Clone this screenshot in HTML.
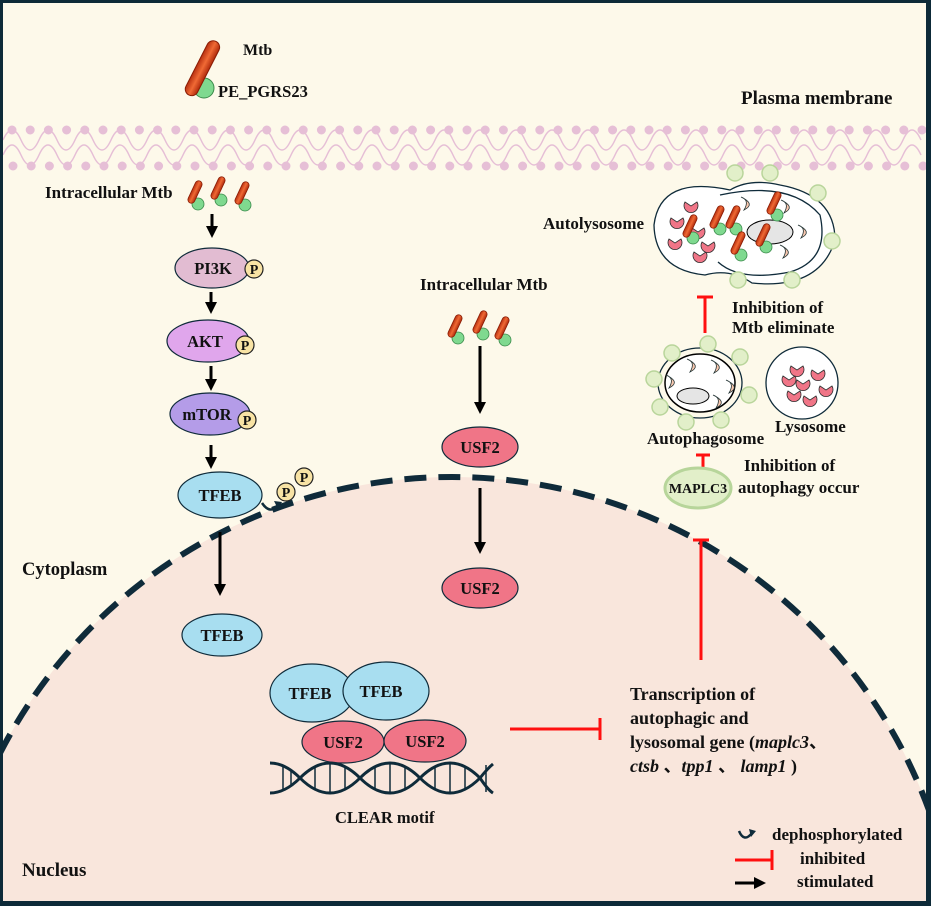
<!DOCTYPE html>
<html><head><meta charset="utf-8"><style>
html,body{margin:0;padding:0;background:#0d2a38;overflow:hidden;width:931px;height:906px}
svg{display:block;position:absolute;left:0;top:0}
text{font-family:"Liberation Serif",serif;font-weight:bold;fill:#111}
</style></head><body>
<svg width="931" height="906" viewBox="0 0 931 906" xmlns="http://www.w3.org/2000/svg">
<defs>
<linearGradient id="rod" x1="0" y1="0" x2="1" y2="0">
<stop offset="0" stop-color="#b83010"/><stop offset="0.5" stop-color="#f06a35"/><stop offset="1" stop-color="#b02a0c"/></linearGradient>
<marker id="ah" viewBox="0 0 10 10" refX="5" refY="5" markerWidth="4" markerHeight="4" orient="auto"><path d="M0,0 L10,5 L0,10z" fill="#000"/></marker>
<g id="bac"><circle cx="3" cy="12" r="6" fill="#7fd98f" stroke="#3a8a4a" stroke-width="0.8"/><rect x="-3.5" y="-12" width="7" height="24" rx="3.5" fill="url(#rod)" stroke="#8a1d05" stroke-width="0.8" transform="rotate(25)"/></g>
<g id="cres"><path d="M-6,-4 A7,7 0 1 0 6,-4 L0,0 Z" fill="#f07587" stroke="#333" stroke-width="0.8"/></g>
<g id="crs2"><path d="M-7,-5 Q2,-2 -4,8 Q8,2 -7,-5Z" fill="#f7c6ae" stroke="#233" stroke-width="0.8"/></g>
<g id="vg"><circle r="8" fill="#e2efc9" stroke="#b9d59b" stroke-width="1.5"/></g>
<clipPath id="cp"><rect x="3" y="3" width="923" height="898"/></clipPath>
</defs>
<rect x="3" y="3" width="923" height="898" fill="#fdf9ea"/>
<g clip-path="url(#cp)">
<circle cx="452" cy="985" r="508" fill="#f9e6dc" stroke="#0f2b3a" stroke-width="6" stroke-dasharray="22 12"/>
</g>
<!-- membrane -->
<g fill="none" stroke="#e6bfd6" stroke-width="1.5" clip-path="url(#cp)">
<path d="M3,140 Q12,120 21,140 Q30,160 39,140 Q48,120 57,140 Q66,160 75,140 Q84,120 93,140 Q102,160 111,140 Q120,120 129,140 Q138,160 147,140 Q156,120 165,140 Q174,160 183,140 Q192,120 201,140 Q210,160 219,140 Q228,120 237,140 Q246,160 255,140 Q264,120 273,140 Q282,160 291,140 Q300,120 309,140 Q318,160 327,140 Q336,120 345,140 Q354,160 363,140 Q372,120 381,140 Q390,160 399,140 Q408,120 417,140 Q426,160 435,140 Q444,120 453,140 Q462,160 471,140 Q480,120 489,140 Q498,160 507,140 Q516,120 525,140 Q534,160 543,140 Q552,120 561,140 Q570,160 579,140 Q588,120 597,140 Q606,160 615,140 Q624,120 633,140 Q642,160 651,140 Q660,120 669,140 Q678,160 687,140 Q696,120 705,140 Q714,160 723,140 Q732,120 741,140 Q750,160 759,140 Q768,120 777,140 Q786,160 795,140 Q804,120 813,140 Q822,160 831,140 Q840,120 849,140 Q858,160 867,140 Q876,120 885,140 Q894,160 903,140 Q912,120 921,140"/>
<path d="M3,155 Q12,135 21,155 Q30,175 39,155 Q48,135 57,155 Q66,175 75,155 Q84,135 93,155 Q102,175 111,155 Q120,135 129,155 Q138,175 147,155 Q156,135 165,155 Q174,175 183,155 Q192,135 201,155 Q210,175 219,155 Q228,135 237,155 Q246,175 255,155 Q264,135 273,155 Q282,175 291,155 Q300,135 309,155 Q318,175 327,155 Q336,135 345,155 Q354,175 363,155 Q372,135 381,155 Q390,175 399,155 Q408,135 417,155 Q426,175 435,155 Q444,135 453,155 Q462,175 471,155 Q480,135 489,155 Q498,175 507,155 Q516,135 525,155 Q534,175 543,155 Q552,135 561,155 Q570,175 579,155 Q588,135 597,155 Q606,175 615,155 Q624,135 633,155 Q642,175 651,155 Q660,135 669,155 Q678,175 687,155 Q696,135 705,155 Q714,175 723,155 Q732,135 741,155 Q750,175 759,155 Q768,135 777,155 Q786,175 795,155 Q804,135 813,155 Q822,175 831,155 Q840,135 849,155 Q858,175 867,155 Q876,135 885,155 Q894,175 903,155 Q912,135 921,155"/>
<line x1="12" y1="130" x2="926" y2="130" stroke-width="9" stroke-linecap="round" stroke-dasharray="0 18.2"/>
<line x1="13" y1="166" x2="926" y2="166" stroke-width="9" stroke-linecap="round" stroke-dasharray="0 18.2"/>
</g>
<!-- top Mtb -->
<circle cx="204" cy="88" r="10" fill="#7fd98f" stroke="#3a8a4a"/>
<rect x="196" y="38" width="13" height="60" rx="6.5" fill="url(#rod)" stroke="#8a1d05" transform="rotate(27 202 68)"/>
<text x="243" y="55" font-size="16">Mtb</text>
<text x="218" y="97" font-size="16.5">PE_PGRS23</text>
<text x="741" y="104" font-size="19">Plasma membrane</text>
<!-- left pathway -->
<text x="45" y="198" font-size="17">Intracellular Mtb</text>
<use href="#bac" x="195" y="192"/><use href="#bac" x="218" y="188"/><use href="#bac" x="242" y="193"/>
<g stroke="#000" stroke-width="3" marker-end="url(#ah)">
<line x1="212" y1="214" x2="212" y2="232"/><line x1="211" y1="292" x2="211" y2="308"/><line x1="211" y1="366" x2="211" y2="385"/><line x1="211" y1="445" x2="211" y2="463"/>
<line x1="220" y1="532" x2="220" y2="590"/>
<line x1="480" y1="346" x2="480" y2="408"/><line x1="480" y1="488" x2="480" y2="548"/>
<line x1="735" y1="883" x2="760" y2="883"/>
</g>
<g stroke="#0f2b3a" stroke-width="1.2">
<ellipse cx="212" cy="268" rx="37" ry="20" fill="#e2bcd2"/>
<ellipse cx="208" cy="341" rx="41" ry="21" fill="#e0a6ec"/>
<ellipse cx="210" cy="414" rx="40" ry="21" fill="#b49ce8"/>
<ellipse cx="220" cy="495" rx="42" ry="23" fill="#a8def0"/>
<ellipse cx="222" cy="635" rx="40" ry="21" fill="#a8def0"/>
<ellipse cx="480" cy="447" rx="38" ry="20" fill="#f07587"/>
<ellipse cx="480" cy="588" rx="38" ry="20" fill="#f07587"/>
<ellipse cx="312" cy="693" rx="42" ry="29" fill="#a8def0"/>
<ellipse cx="386" cy="691" rx="43" ry="29" fill="#a8def0"/>
<ellipse cx="343" cy="742" rx="41" ry="21" fill="#f07587"/>
<ellipse cx="425" cy="741" rx="41" ry="21" fill="#f07587"/>
</g>
<g fill="#f8e3a4" stroke="#222" stroke-width="1.2">
<circle cx="254" cy="269" r="9"/><circle cx="245" cy="345" r="9"/><circle cx="247" cy="420" r="9"/>
<circle cx="286" cy="492" r="9"/><circle cx="304" cy="477" r="9"/>
</g>
<g font-size="14" text-anchor="middle">
<text x="254" y="274">P</text><text x="245" y="350">P</text><text x="247" y="425">P</text><text x="286" y="497">P</text><text x="304" y="482">P</text>
</g>
<path d="M262,503 Q270,515 278,505" fill="none" stroke="#0f2b3a" stroke-width="2.5"/><path d="M274,501 L282,502 L278,509z" fill="#0f2b3a"/>
<g font-size="16.5" text-anchor="middle">
<text x="213" y="274">PI3K</text><text x="205" y="347">AKT</text><text x="207" y="420">mTOR</text><text x="220" y="501">TFEB</text><text x="222" y="641">TFEB</text>
<text x="480" y="453">USF2</text><text x="480" y="594">USF2</text>
<text x="310" y="699">TFEB</text><text x="381" y="697">TFEB</text><text x="343" y="748">USF2</text><text x="425" y="747">USF2</text>
</g>
<text x="22" y="575" font-size="18.5">Cytoplasm</text>
<text x="22" y="876" font-size="19">Nucleus</text>
<!-- middle -->
<text x="420" y="290" font-size="17">Intracellular Mtb</text>
<use href="#bac" x="455" y="326"/><use href="#bac" x="480" y="322"/><use href="#bac" x="502" y="328"/>
<!-- DNA -->
<g fill="none" stroke="#0f2b3a" stroke-width="3">
<path d="M270,763 Q285,763 300,778 Q315,793 330,793 Q345,793 360,778 Q375,763 390,763 Q405,763 420,778 Q435,793 450,793 Q465,793 480,778 Q488,768 493,764"/>
<path d="M270,793 Q285,793 300,778 Q315,763 330,763 Q345,763 360,778 Q375,793 390,793 Q405,793 420,778 Q435,763 450,763 Q465,763 480,778 Q488,790 493,793"/>
</g>
<g stroke="#0f2b3a" stroke-width="1.5">
<line x1="283" y1="766" x2="283" y2="790"/><line x1="291" y1="770" x2="291" y2="786"/><line x1="315" y1="767" x2="315" y2="790"/><line x1="330" y1="763" x2="330" y2="793"/><line x1="345" y1="767" x2="345" y2="790"/>
<line x1="375" y1="767" x2="375" y2="790"/><line x1="390" y1="763" x2="390" y2="793"/><line x1="405" y1="767" x2="405" y2="790"/><line x1="435" y1="767" x2="435" y2="790"/><line x1="450" y1="763" x2="450" y2="793"/><line x1="465" y1="767" x2="465" y2="790"/><line x1="486" y1="765" x2="486" y2="792"/>
</g>
<text x="335" y="823" font-size="16.5">CLEAR motif</text>
<!-- red inhibit -->
<g stroke="#ff1010" stroke-width="3">
<line x1="510" y1="729" x2="600" y2="729"/><line x1="600" y1="718" x2="600" y2="740"/>
<line x1="701" y1="660" x2="701" y2="540"/><line x1="693" y1="540" x2="709" y2="540"/>
<line x1="703" y1="472" x2="703" y2="455"/><line x1="696" y1="455" x2="710" y2="455"/>
<line x1="705" y1="333" x2="705" y2="297"/><line x1="697" y1="297" x2="713" y2="297"/>
<line x1="735" y1="860" x2="772" y2="860"/><line x1="772" y1="850" x2="772" y2="870"/>
</g>
<g font-size="18">
<text x="630" y="700">Transcription of</text>
<text x="630" y="724">autophagic and</text>
<text x="630" y="748">lysosomal gene (<tspan font-style="italic">maplc3</tspan><tspan font-family="Noto Sans CJK SC">、</tspan></text>
<text x="630" y="772"><tspan font-style="italic">ctsb</tspan> <tspan font-family="Noto Sans CJK SC">、</tspan><tspan font-style="italic">tpp1</tspan> <tspan font-family="Noto Sans CJK SC">、</tspan> <tspan font-style="italic">lamp1</tspan> )</text>
</g>
<!-- MAPLC3 -->
<ellipse cx="698" cy="488" rx="33" ry="20" fill="#e2efc9" stroke="#b7d59a" stroke-width="3"/>
<text x="698" y="493" font-size="14" text-anchor="middle">MAPLC3</text>
<g font-size="17">
<text x="744" y="471">Inhibition of</text><text x="738" y="493">autophagy occur</text>
<text x="732" y="313">Inhibition of</text><text x="732" y="333">Mtb eliminate</text>
<text x="647" y="444">Autophagosome</text><text x="775" y="432">Lysosome</text>
<text x="543" y="229">Autolysosome</text>
</g>
<!-- autophagosome -->
<ellipse cx="700" cy="383" rx="42" ry="35" fill="none" stroke="#0f2b3a" stroke-width="1.3"/>
<ellipse cx="700" cy="383" rx="35" ry="29" fill="#fff" stroke="#000" stroke-width="1.5"/>
<ellipse cx="693" cy="396" rx="16" ry="8" fill="#e5e5e5" stroke="#000"/>
<use href="#crs2" x="673" y="380"/><use href="#crs2" x="694" y="364"/><use href="#crs2" x="718" y="365"/><use href="#crs2" x="733" y="385"/><use href="#crs2" x="720" y="400"/>
<use href="#vg" x="708" y="344"/><use href="#vg" x="672" y="353"/><use href="#vg" x="740" y="357"/><use href="#vg" x="654" y="379"/><use href="#vg" x="749" y="395"/><use href="#vg" x="660" y="407"/><use href="#vg" x="686" y="422"/><use href="#vg" x="721" y="420"/>
<!-- lysosome -->
<circle cx="802" cy="383" r="36" fill="#fff" stroke="#0f2b3a" stroke-width="1.3"/>
<use href="#cres" x="797" y="370"/><use href="#cres" x="818" y="374"/><use href="#cres" x="789" y="380"/><use href="#cres" x="803" y="384"/><use href="#cres" x="826" y="390"/><use href="#cres" x="794" y="395"/><use href="#cres" x="810" y="400"/>
<!-- autolysosome -->
<path d="M730,190 Q660,175 654,225 Q655,270 705,275 Q730,268 752,283 Q820,290 835,240 Q835,195 780,185 Q750,178 730,190Z" fill="#fff" stroke="#0f2b3a" stroke-width="1.3"/>
<path d="M720,195 Q790,180 820,215 Q830,260 790,272 Q740,282 718,262" fill="none" stroke="#0f2b3a" stroke-width="1.3"/>
<ellipse cx="770" cy="232" rx="23" ry="12" fill="#e5e5e5" stroke="#000"/>
<use href="#cres" x="691" y="206"/><use href="#cres" x="677" y="222"/><use href="#cres" x="698" y="232"/><use href="#cres" x="675" y="243"/><use href="#cres" x="700" y="256"/><use href="#cres" x="708" y="246"/>
<use href="#crs2" x="748" y="202"/><use href="#crs2" x="788" y="205"/><use href="#crs2" x="805" y="230"/><use href="#crs2" x="787" y="250"/>
<use href="#bac" x="690" y="226"/><use href="#bac" x="717" y="217"/><use href="#bac" x="733" y="217"/><use href="#bac" x="774" y="203"/><use href="#bac" x="763" y="235"/><use href="#bac" x="738" y="243"/>
<use href="#vg" x="735" y="173"/><use href="#vg" x="770" y="173"/><use href="#vg" x="818" y="193"/><use href="#vg" x="832" y="241"/><use href="#vg" x="792" y="280"/><use href="#vg" x="738" y="280"/>
<!-- legend -->
<path d="M739,831 Q744,843 752,833" fill="none" stroke="#0f2b3a" stroke-width="2.5"/><path d="M749,829 L756,831 L751,837z" fill="#0f2b3a"/>
<g font-size="17">
<text x="772" y="840">dephosphorylated</text><text x="800" y="864">inhibited</text><text x="797" y="887">stimulated</text>
</g>
</svg>
</body></html>
